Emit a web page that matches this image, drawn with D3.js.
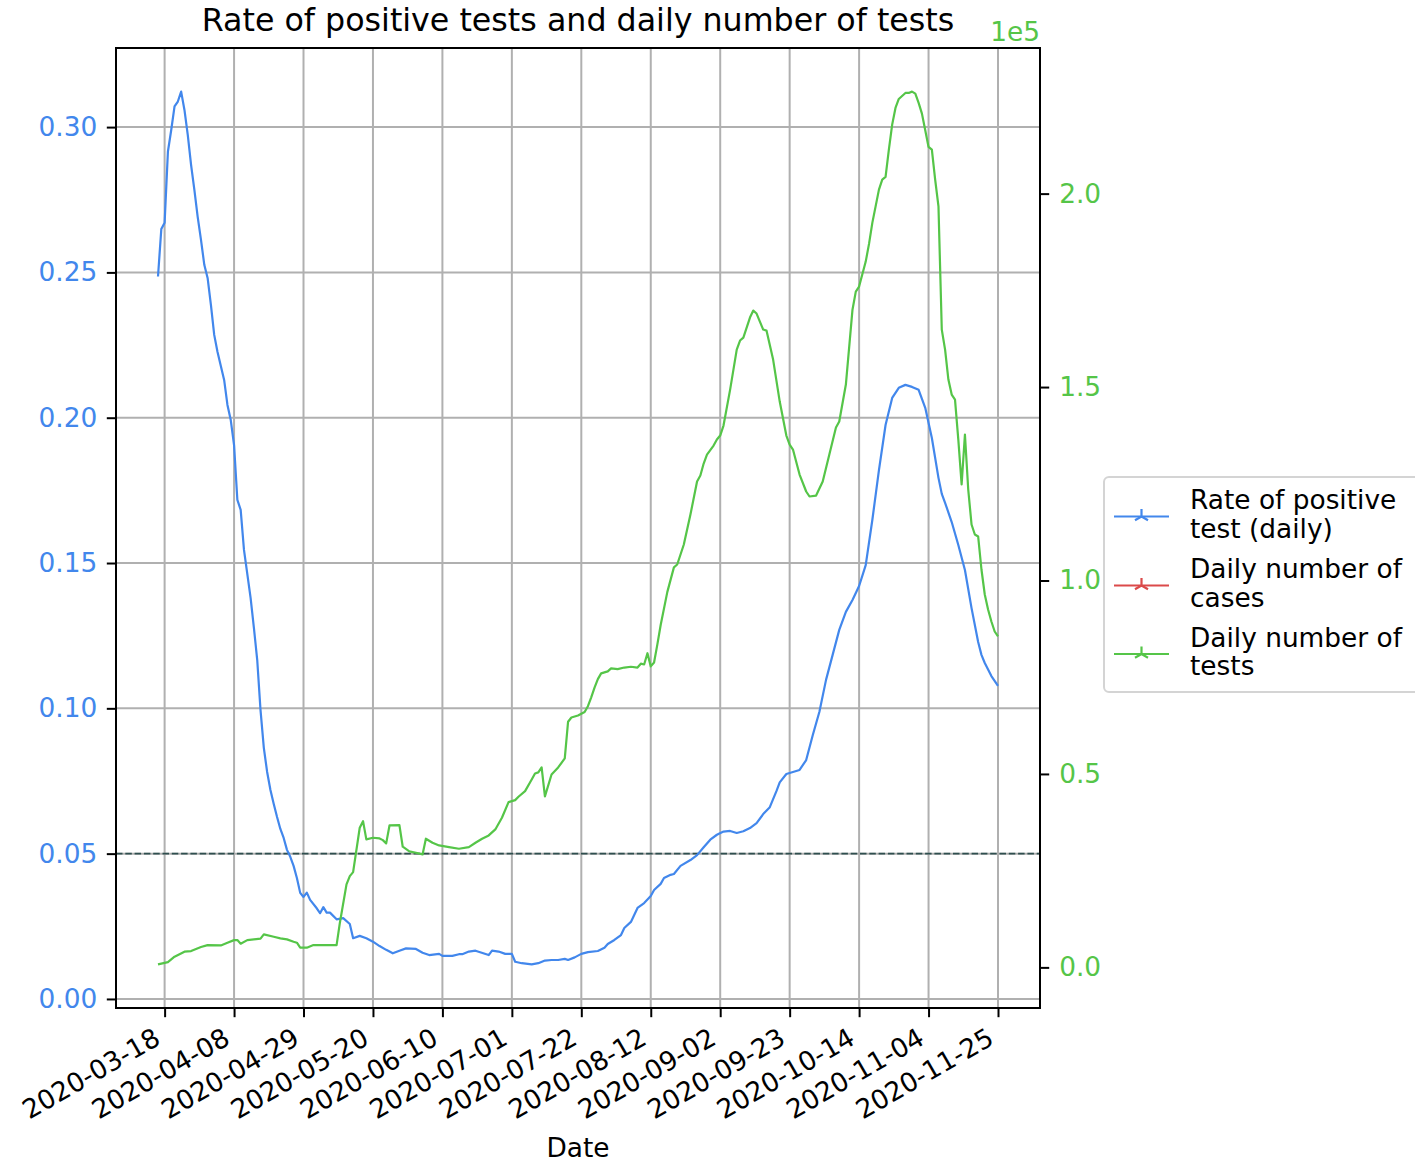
<!DOCTYPE html>
<html><head><meta charset="utf-8">
<script src="https://cdn.jsdelivr.net/npm/d3@7"></script>
<style>
html,body{margin:0;padding:0;background:#fff;}
svg{display:block;font-family:"DejaVu Sans",sans-serif;}
</style></head>
<body>
<svg id="c" width="1415" height="1164"></svg>
<script>
const startDate = "2020-03-16";
const rateDay = [0,1,2,3,4,5,6,7,8,9,10,11,12,13,14,15,16,17,18,19,20,21,22,23,24,25,26,28,29,30,31,32,33,34,35,36,37,38,39,40,41,42,43,44,45,46,48,49,50,51,52,54,56,58,59,61,63,65,67,69,71,73,75,78,80,82,85,86,89,91,92,94,96,100,101,103,105,107,108,110,113,115,117,119,121,123,124,126,128,130,133,135,136,138,140,141,143,144,145,147,149,150,152,153,155,156,158,161,163,165,167,169,171,173,175,177,179,181,183,185,187,188,190,192,194,196,198,200,202,204,206,208,210,212,214,216,218,220,222,224,226,228,230,232,234,236,237,238,240,242,244,246,248,249,250,252,254];
const rateValue = [0.2486,0.2649,0.2671,0.2916,0.2990,0.3071,0.3088,0.3122,0.3059,0.2973,0.2870,0.2784,0.2691,0.2612,0.2526,0.2481,0.2388,0.2285,0.2226,0.2178,0.2130,0.2044,0.1992,0.1906,0.1717,0.1683,0.1545,0.1380,0.1277,0.1167,0.0994,0.0864,0.0781,0.0719,0.0671,0.0626,0.0585,0.0554,0.0513,0.0489,0.0458,0.0416,0.0365,0.0351,0.0366,0.0341,0.0312,0.0295,0.0316,0.0297,0.0297,0.0274,0.0278,0.0258,0.0209,0.0217,0.0209,0.0197,0.0182,0.0169,0.0157,0.0166,0.0174,0.0172,0.0159,0.0151,0.0155,0.0148,0.0148,0.0154,0.0154,0.0163,0.0166,0.0151,0.0166,0.0163,0.0155,0.0155,0.0128,0.0123,0.0119,0.0123,0.0132,0.0134,0.0134,0.0138,0.0134,0.0143,0.0155,0.0161,0.0165,0.0176,0.0189,0.0203,0.0220,0.0244,0.0265,0.0289,0.0313,0.0330,0.0354,0.0375,0.0396,0.0416,0.0427,0.0430,0.0458,0.0478,0.0495,0.0522,0.0548,0.0565,0.0576,0.0578,0.0571,0.0577,0.0588,0.0605,0.0636,0.0660,0.0715,0.0745,0.0774,0.0781,0.0788,0.0822,0.0908,0.0988,0.1098,0.1184,0.1270,0.1332,0.1373,0.1421,0.1493,0.1648,0.1820,0.1975,0.2068,0.2103,0.2113,0.2106,0.2096,0.2034,0.1930,0.1793,0.1738,0.1707,0.1641,0.1562,0.1476,0.1345,0.1228,0.1184,0.1156,0.1111,0.1077];
const testDay = [0,3,5,8,10,13,15,19,21,23,24,25,27,31,32,35,37,39,41,42,43,45,47,54,55,57,58,59,61,62,63,65,67,68,69,70,73,74,76,78,80,81,83,85,88,91,94,96,98,100,102,104,106,108,109,111,113,114,115,116,117,119,121,123,124,125,127,129,130,131,132,133,134,136,137,139,141,143,145,146,147,148,149,150,151,152,154,156,157,159,161,163,164,165,166,168,169,170,171,173,175,176,177,178,179,180,181,182,183,184,186,188,190,191,192,194,196,197,199,201,203,205,206,208,210,211,212,214,215,216,218,219,220,221,222,223,224,226,227,228,229,230,231,232,233,234,235,236,237,238,239,240,241,242,243,244,245,246,247,248,249,250,251,252,253,254];
const testValue = [780,1370,2760,4060,4210,5250,5760,5680,6380,7050,7050,6120,7050,7420,8530,7930,7490,7240,6640,6380,5090,5090,5760,5760,11550,21450,23590,24630,36100,37800,33080,33510,33330,32890,32040,36690,36770,31190,30000,29640,29200,33260,32220,31520,31090,30670,31090,32220,33260,34110,35660,38680,42710,43230,44110,45560,48580,50130,50400,51700,44200,49870,51680,54000,63500,64600,65100,66000,67500,69800,72300,74500,76000,76500,77300,77100,77500,77700,77500,78500,78300,81200,77800,78800,83500,88500,97000,103400,104130,109300,117050,125580,127130,130230,132560,134880,136430,137470,140050,149350,159690,162020,162790,165370,167960,169770,169000,166930,164860,164600,157110,146250,137470,135140,133850,127390,123000,121710,121960,125580,132560,139530,141090,150650,170000,174680,175970,182430,187000,192430,201030,203620,204320,211370,217830,222140,224470,226020,226020,226360,225840,223440,220670,216360,212070,211370,203620,196720,164860,159690,151940,148060,146770,136430,124810,137730,123510,114470,111890,111370,102840,96380,92510,89410,86820,85530];
const rateTicks = [0,0.05,0.10,0.15,0.20,0.25,0.30];
const testTicks = [0,50000,100000,150000,200000];
const dateTicks = ["2020-03-18","2020-04-08","2020-04-29","2020-05-20","2020-06-10","2020-07-01","2020-07-22","2020-08-12","2020-09-02","2020-09-23","2020-10-14","2020-11-04","2020-11-25"];
const threshold = 0.05;
const legendItems = [
  {lines:["Rate of positive","test (daily)"], color:"#4287ec"},
  {lines:["Daily number of","cases"], color:"#db4a4a"},
  {lines:["Daily number of","tests"], color:"#55c548"}
];
const titleText = "Rate of positive tests and daily number of tests";

const BLUE = "#4287ec", GREEN = "#55c548";
const L = 116, R = 1040, T = 48, B = 1008;
const DAY = 86400000;
const t0 = new Date(startDate + "T00:00:00Z").getTime();
const toDate = d => new Date(t0 + d*DAY);

const rate = rateDay.map((d,i)=>({date:toDate(d), v:rateValue[i]}));
const tests = testDay.map((d,i)=>({date:toDate(d), v:testValue[i]}));

const xExt = d3.extent(rate, d=>d.date.getTime());
const xPad = (xExt[1]-xExt[0])*0.05;
const x = d3.scaleUtc().domain([new Date(xExt[0]-xPad), new Date(xExt[1]+xPad)]).range([L,R]);
const rExt = d3.extent(rateValue); const rPad = (rExt[1]-rExt[0])*0.05;
const yL = d3.scaleLinear().domain([rExt[0]-rPad, rExt[1]+rPad]).range([B,T]);
const tExt = d3.extent(testValue); const tPad = (tExt[1]-tExt[0])*0.05;
const yR = d3.scaleLinear().domain([tExt[0]-tPad, tExt[1]+tPad]).range([B,T]);

const svg = d3.select("#c");
const FS = 26.4, TFS = 31.7, TL = 9.2;

// grid
const dTicks = dateTicks.map(s=>new Date(s+"T00:00:00Z"));
svg.append("g").selectAll("line").data(dTicks).join("line")
  .attr("x1",d=>x(d)).attr("x2",d=>x(d)).attr("y1",T).attr("y2",B)
  .attr("stroke","#b0b0b0").attr("stroke-width",2);
svg.append("g").selectAll("line").data(rateTicks).join("line")
  .attr("x1",L).attr("x2",R).attr("y1",d=>yL(d)).attr("y2",d=>yL(d))
  .attr("stroke","#b0b0b0").attr("stroke-width",2);

// threshold dashed
svg.append("line").attr("x1",L).attr("x2",R).attr("y1",yL(threshold)).attr("y2",yL(threshold))
  .attr("stroke","#2f4f4f").attr("stroke-width",1.8).attr("stroke-dasharray","6.5,2.8");

svg.append("clipPath").attr("id","pa").append("rect").attr("x",L).attr("y",T).attr("width",R-L).attr("height",B-T);

svg.append("path").datum(rate).attr("clip-path","url(#pa)")
  .attr("d", d3.line().x(d=>x(d.date)).y(d=>yL(d.v)))
  .attr("fill","none").attr("stroke",BLUE).attr("stroke-width",2.2).attr("stroke-linejoin","round");
svg.append("path").datum(tests).attr("clip-path","url(#pa)")
  .attr("d", d3.line().x(d=>x(d.date)).y(d=>yR(d.v)))
  .attr("fill","none").attr("stroke",GREEN).attr("stroke-width",2.2).attr("stroke-linejoin","round");

// spines
svg.append("rect").attr("x",L).attr("y",T).attr("width",R-L).attr("height",B-T)
  .attr("fill","none").attr("stroke","#000").attr("stroke-width",2);

// left axis
const gl = svg.append("g").attr("transform",`translate(${L},0)`)
  .call(d3.axisLeft(yL).tickValues(rateTicks).tickFormat(d3.format(".2f")).tickSize(TL).tickPadding(9.5));
gl.select(".domain").remove();
gl.selectAll("line").attr("stroke","#000").attr("stroke-width",2);
gl.selectAll("text").attr("fill",BLUE).attr("font-size",FS).attr("font-family","DejaVu Sans");

// right axis
const gr = svg.append("g").attr("transform",`translate(${R},0)`)
  .call(d3.axisRight(yR).tickValues(testTicks).tickFormat(d=>(d/1e5).toFixed(1)).tickSize(TL).tickPadding(10));
gr.select(".domain").remove();
gr.selectAll("line").attr("stroke","#000").attr("stroke-width",2);
gr.selectAll("text").attr("fill",GREEN).attr("font-size",FS).attr("font-family","DejaVu Sans");

svg.append("text").attr("x",R).attr("y",41).attr("text-anchor","end")
  .attr("font-size",FS).attr("fill",GREEN).text("1e5");

// bottom axis
const gb = svg.append("g").attr("transform",`translate(0,${B})`)
  .call(d3.axisBottom(x).tickValues(dTicks).tickFormat(d3.utcFormat("%Y-%m-%d")).tickSize(TL));
gb.select(".domain").remove();
gb.selectAll("line").attr("stroke","#000").attr("stroke-width",2);
const asc = 19.3, desc = 6;
gb.selectAll("text")
  .attr("font-size",FS).attr("font-family","DejaVu Sans").attr("fill","#000")
  .attr("text-anchor","end").attr("dy",null).attr("y",null)
  .attr("transform",`translate(${-0.5*desc},${2*TL+0.866*asc}) rotate(-30)`);

svg.append("text").attr("x",(L+R)/2).attr("y",1157).attr("text-anchor","middle")
  .attr("font-size",FS).attr("fill","#000").text("Date");

svg.append("text").attr("x",(L+R)/2).attr("y",31).attr("text-anchor","middle")
  .attr("font-size",TFS).attr("fill","#000").text(titleText);

// legend
const lg = svg.append("g");
lg.append("rect").attr("x",1104).attr("y",477).attr("width",318).attr("height",215).attr("rx",5)
  .attr("fill","#fff").attr("fill-opacity",0.8).attr("stroke","#d4d4d4").attr("stroke-width",2);
const entryY = [516.5, 585.5, 654];
legendItems.forEach((it,i)=>{
  const cy = entryY[i];
  lg.append("line").attr("x1",1114).attr("x2",1169).attr("y1",cy).attr("y2",cy)
    .attr("stroke",it.color).attr("stroke-width",2.2);
  const cx = 1141.5, a = 7.5;
  const tri = `M${cx},${cy}L${cx},${cy-a}M${cx},${cy}L${cx-a*0.866},${cy+a*0.5}M${cx},${cy}L${cx+a*0.866},${cy+a*0.5}`;
  lg.append("path").attr("d",tri).attr("stroke",it.color).attr("stroke-width",2.2).attr("fill","none");
  it.lines.forEach((ln,j)=>{
    lg.append("text").attr("x",1190).attr("y",cy-7.5+j*28.5).attr("font-size",FS).attr("fill","#000").text(ln);
  });
});
</script>
</body></html>
